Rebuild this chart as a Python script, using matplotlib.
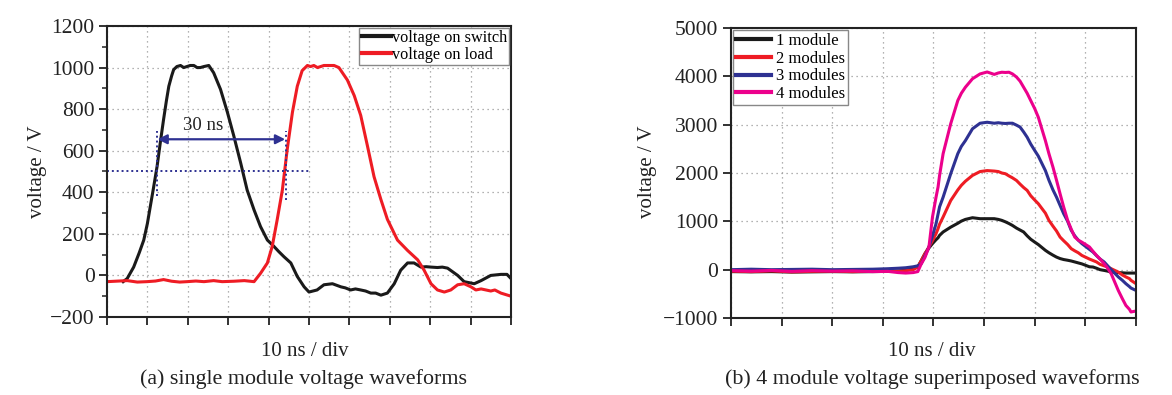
import numpy as np
import matplotlib
matplotlib.use("Agg")
import matplotlib.pyplot as plt
from matplotlib.ticker import MultipleLocator, NullFormatter

plt.rcParams['font.family'] = ['Liberation Serif', 'DejaVu Serif']

# ---- (a) single module, time in ns (10 ns / div) ----
t_sw = [4, 5, 6.6, 8, 9.1, 10, 10.7, 11.5, 12.4, 13.2, 14, 14.7, 15.3, 16, 16.5, 17.3, 18.2, 19, 19.8,
        20.6, 21.5, 22.3, 23.1, 24, 25.2, 26.4, 28.1, 29.8, 31.4, 33.1, 34.7, 36.4, 38, 39.7, 41.3,
        42.5, 43.8, 45.5, 47.1, 48.8, 50, 51, 52, 53.7, 55.8, 57.9, 59, 60.3, 61.5, 62.8, 64,
        65.3, 66.5, 67.8, 69.4, 71.1, 72.7, 74.4, 76, 77.7, 79, 80.2, 81.8, 83, 84.3, 86.8, 88.4,
        90.9, 92.6, 95, 97.5, 99, 100]
v_sw = [-30, -15, 40, 110, 170, 250, 330, 420, 525, 640, 750, 840, 910, 960, 990, 1005, 1010, 1000, 1005,
        1010, 1010, 1000, 1000, 1005, 1010, 975, 895, 785, 670, 540, 410, 315, 235, 170, 140,
        115, 90, 60, -5, -55, -80, -75, -70, -45, -40, -55, -60, -70, -65, -70, -75,
        -85, -85, -95, -85, -40, 25, 60, 60, 40, 42, 40, 38, 40, 35, 0, -30,
        -40, -25, 0, 5, 5, -15]

t_ld = [0, 2, 5, 7.5, 9.9, 12, 14, 16, 18, 19.8, 22, 24, 26.4, 28.5, 31.4, 34, 36.4, 38, 39.7,
        40.9, 42.1, 43.4, 44.6, 45.9, 47.1, 48.3, 49.6, 50.4, 51.2, 52.1, 52.9, 53.7, 54.5, 56.2,
        57.4, 59.5, 61.2, 62.8, 64.5, 66.1, 67.8, 69.4, 71.9, 74.4, 76.9, 78.5, 80.2, 81.8, 83.5,
        85.1, 86.8, 88.4, 90.1, 91.3, 92.6, 95, 96, 97.5, 100]
v_ld = [-30, -28, -25, -32, -30, -27, -20, -28, -32, -30, -27, -30, -25, -30, -28, -25, -30, 10, 60,
        140, 265, 410, 605, 785, 910, 985, 1010, 1005, 1010, 1000, 1005, 1010, 1010, 1010,
        1000, 940, 865, 770, 620, 475, 365, 270, 170, 120, 75, 25, -40, -70, -80,
        -70, -45, -40, -55, -70, -65, -75, -70, -85, -100]

# ---- (b) superimposed modules ----
t_b = [0, 4, 8, 12, 16, 20, 24, 28, 31, 33, 34.5, 36, 36.9, 37.6, 38.3, 39.1, 39.8, 40.5, 40.9, 41.2,
       41.9, 43.4, 44.8, 45.5, 46.3, 47.7, 49.2, 50.6, 52, 52.8, 53.5, 54.2, 54.9, 55.6, 56.4,
       57.1, 57.8, 58.5, 59.2, 60, 60.7, 62.1, 62.8, 63.6, 64.3, 65, 65.7, 66.5, 67.2, 67.9,
       68.6, 69.3, 70.8, 71.5, 72.2, 72.9, 73.7, 74.4, 75.1, 76.5, 77.3, 78, 78.7, 79, 80]
v_1 = [-40, -45, -40, -50, -45, -40, -45, -40, -35, -30, -10, 20, 55, 190, 330, 450, 540, 620, 660, 710,
       780, 880, 960, 1005, 1040, 1075, 1055, 1055, 1055, 1040, 1020, 990, 955, 915, 860,
       820, 780, 700, 630, 570, 520, 400, 350, 300, 260, 230, 210, 195, 180, 160,
       140, 120, 60, 55, 30, 0, -15, -30, -50, -60, -65, -70, -70, -70, -70]
v_2 = [-30, -40, -25, -45, -35, -30, -40, -30, -35, -30, -20, 0, 60, 190, 330, 470, 600, 745, 850, 940,
       1090, 1430, 1650, 1745, 1830, 1950, 2030, 2050, 2040, 2030, 2000, 1985, 1940, 1900, 1845,
       1770, 1700, 1640, 1530, 1440, 1365, 1170, 1020, 900, 800, 675, 600, 520, 435, 390,
       350, 295, 220, 190, 160, 110, 80, 55, 20, -50, -110, -150, -185, -220, -290]
v_3 = [0, 10, 0, 5, 10, 0, 5, 10, 20, 30, 40, 60, 80, 125, 280, 470, 700, 950, 1150, 1300,
       1500, 1985, 2400, 2550, 2670, 2915, 3030, 3050, 3030, 3040, 3030, 3025, 3030, 3030, 2990,
       2950, 2850, 2740, 2600, 2465, 2350, 2050, 1850, 1650, 1500, 1330, 1160, 1000, 815, 700,
       610, 540, 420, 365, 290, 220, 160, 80, 0, -150, -220, -290, -350, -380, -430]
v_4 = [-20, -30, -15, -35, -20, -30, -25, -40, -35, -60, -70, -60, -40, 125, 250, 470, 1090, 1500, 1710, 1950,
       2400, 3020, 3500, 3650, 3775, 3950, 4050, 4090, 4040, 4070, 4085, 4080, 4085, 4050, 3985,
       3900, 3775, 3650, 3500, 3330, 3155, 2670, 2400, 2120, 1850, 1570, 1300, 1020, 840, 675,
       610, 570, 470, 380, 295, 220, 125, 30, -85, -430, -600, -740, -820, -875, -855]

fig = plt.figure(figsize=(11.72, 3.95), dpi=100)
ax1 = fig.add_axes([0.0913, 0.1975, 0.3447, 0.7367])
ax2 = fig.add_axes([0.6237, 0.1949, 0.3456, 0.7342])

ink = '#222222'
for ax in (ax1, ax2):
    for s in ax.spines.values():
        s.set_linewidth(1.5)
        s.set_color(ink)
    ax.grid(True, which='major', linestyle=(0, (1, 3)), color='#999999', linewidth=0.9)
    ax.tick_params(axis='both', which='major', direction='out', length=6, width=1.3,
                   labelsize=15.5, colors=ink, pad=3)
    ax.tick_params(axis='y', which='minor', direction='out', length=3.5, width=1.1, colors=ink)
    ax.xaxis.set_major_formatter(NullFormatter())

# left panel
ax1.plot(t_sw, v_sw, color='#1a1a1a', lw=2.2, label='voltage on switch')
ax1.plot(t_ld, v_ld, color='#ee1c24', lw=2.2, label='voltage on load')
ax1.set_xlim(0, 100)
ax1.set_ylim(-200, 1200)
ax1.xaxis.set_major_locator(MultipleLocator(10))
ax1.yaxis.set_major_locator(MultipleLocator(200))
ax1.yaxis.set_minor_locator(MultipleLocator(100))

blue = '#2e3192'
ax1.plot([0, 50.4], [500, 500], color=blue, lw=1.4, linestyle=(0, (1, 1.5)))
ax1.plot([12.4, 12.4], [380, 695], color=blue, lw=1.4, linestyle=(0, (1, 1.5)))
ax1.plot([44.2, 44.2], [365, 695], color=blue, lw=1.4, linestyle=(0, (1, 1.5)))
ax1.annotate('', xy=(12.5, 655), xytext=(44.1, 655),
             arrowprops=dict(arrowstyle='<|-|>', color=blue, lw=1.6, mutation_scale=14,
                             shrinkA=0, shrinkB=0))
ax1.text(23.8, 722, '30 ns', fontsize=13.5, color=ink, ha='center', va='center')

leg1 = ax1.legend(loc='upper right', fontsize=11.7, handlelength=1.8, handletextpad=0.05,
                  borderpad=0.15, labelspacing=0.05, borderaxespad=0.1, fancybox=False,
                  framealpha=1)
leg1.get_frame().set_edgecolor('#888888')
leg1.get_frame().set_linewidth(1.0)
for h in leg1.get_lines():
    h.set_linewidth(3)

# right panel
ax2.plot(t_b, v_1, color='#1a1a1a', lw=2.2, label='1 module')
ax2.plot(t_b, v_2, color='#ee1c24', lw=2.2, label='2 modules')
ax2.plot(t_b, v_3, color='#2e3192', lw=2.2, label='3 modules')
ax2.plot(t_b, v_4, color='#ec008c', lw=2.2, label='4 modules')
ax2.set_xlim(0, 80)
ax2.set_ylim(-1000, 5000)
ax2.xaxis.set_major_locator(MultipleLocator(10))
ax2.yaxis.set_major_locator(MultipleLocator(1000))

leg2 = ax2.legend(loc='upper left', fontsize=12, handlelength=2.1, handletextpad=0.3,
                  borderpad=0.2, labelspacing=0.1, borderaxespad=0.1, fancybox=False,
                  framealpha=1)
leg2.get_frame().set_edgecolor('#888888')
leg2.get_frame().set_linewidth(1.0)
for h in leg2.get_lines():
    h.set_linewidth(3)

W, H = 1172.0, 395.0
fig.text(38 / W, 1 - 172 / H, 'voltage / V', rotation=90, fontsize=15, color=ink,
         ha='center', va='center')
fig.text(647 / W, 1 - 172 / H, 'voltage / V', rotation=90, fontsize=15, color=ink,
         ha='center', va='center')
fig.text(305 / W, 1 - 352 / H, '10 ns / div', fontsize=15, color=ink, ha='center', va='center')
fig.text(932 / W, 1 - 352 / H, '10 ns / div', fontsize=15, color=ink, ha='center', va='center')
fig.text(304 / W, 1 - 379 / H, '(a) single module voltage waveforms', fontsize=15.8, color=ink,
         ha='center', va='center')
fig.text(932 / W, 1 - 379 / H, '(b) 4 module voltage superimposed waveforms', fontsize=15.8,
         color=ink, ha='center', va='center')

fig.savefig('out.png', dpi=100)
